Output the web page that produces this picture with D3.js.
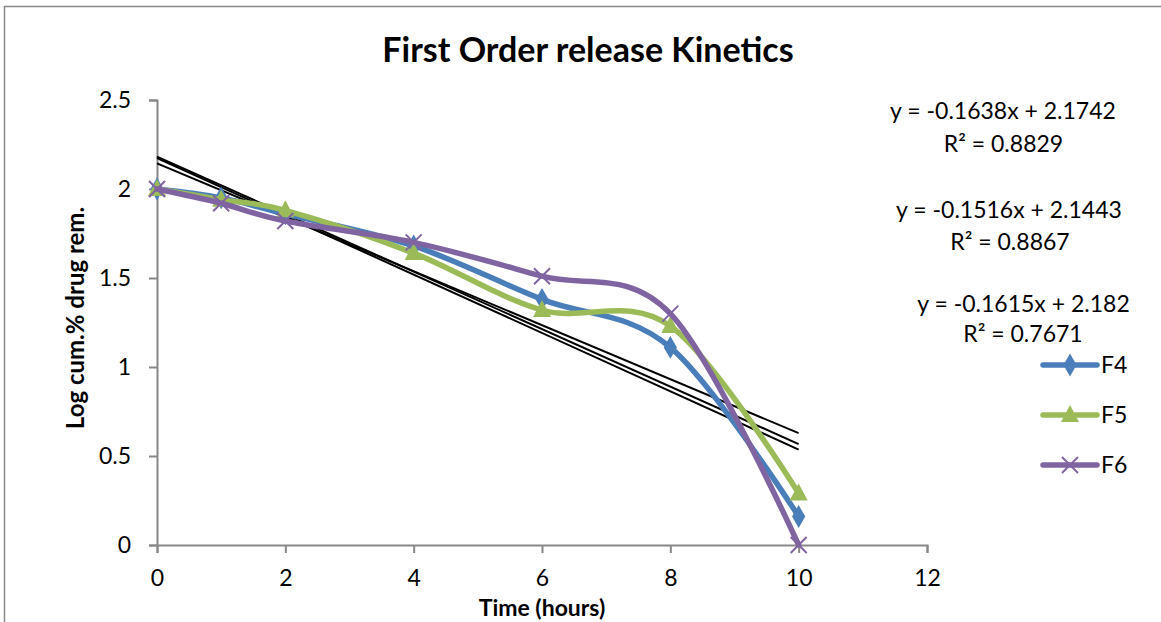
<!DOCTYPE html>
<html><head><meta charset="utf-8">
<script src="https://cdn.jsdelivr.net/npm/d3@7"></script>
<style>body{margin:0;background:#fff}svg{display:block}text{font-family:Lato,"Open Sans",sans-serif}</style>
</head><body>
<svg id="c" width="1161" height="622"></svg>
<script>
const times = [0, 1, 2, 4, 6, 8, 10];
const seriesNames = ["F4", "F5", "F6"];
const f4 = [2.0, 1.95, 1.86, 1.68, 1.38, 1.11, 0.16];
const f5 = [2.0, 1.94, 1.88, 1.64, 1.32, 1.23, 0.29];
const f6 = [2.0, 1.92, 1.82, 1.70, 1.51, 1.30, 0.0];
const slopes = [-0.1638, -0.1516, -0.1615];
const intercepts = [2.1742, 2.1443, 2.182];
const eqLabels = ["y = -0.1638x + 2.1742", "y = -0.1516x + 2.1443", "y = -0.1615x + 2.182"];
const r2Labels = ["R² = 0.8829", "R² = 0.8867", "R² = 0.7671"];
const xTicks = [0, 2, 4, 6, 8, 10, 12];
const yTicks = [0, 0.5, 1, 1.5, 2, 2.5];
const colors = ["#4A7EBB", "#9BBB59", "#8064A2"];

const svg = d3.select("#c");
svg.append("rect").attr("x",4.5).attr("y",6.5).attr("width",1200).attr("height",700)
  .attr("fill","none").attr("stroke","#888").attr("stroke-width",1.5);

const x = d3.scaleLinear().domain([0,12]).range([157,927]);
const y = d3.scaleLinear().domain([0,2.5]).range([545,100]);

const axisColor = "#888";
const gx = svg.append("g").attr("transform","translate(0,545)")
  .call(d3.axisBottom(x).tickValues(xTicks).tickSize(8).tickPadding(17).tickFormat(d3.format("d")));
const gy = svg.append("g").attr("transform","translate(157,0)")
  .call(d3.axisLeft(y).tickValues(yTicks).tickSize(8).tickPadding(18).tickFormat(d=>String(d)));
[gx,gy].forEach(g=>{
  g.select(".domain").attr("stroke",axisColor).attr("stroke-width",2);
  g.selectAll(".tick line").attr("stroke",axisColor).attr("stroke-width",2);
  g.selectAll(".tick text").attr("fill","#000").style("font-size","23px").style("font-family","Lato,sans-serif");
});

// trendlines
slopes.forEach((m,i)=>{
  svg.append("line").attr("x1",x(0)).attr("y1",y(intercepts[i]))
    .attr("x2",x(10)).attr("y2",y(intercepts[i]+m*10))
    .attr("stroke","#000").attr("stroke-width",2);
});

const data = [f4,f5,f6];
const line = d3.line().x(d=>x(d[0])).y(d=>y(d[1])).curve(d3.curveCardinal.tension(0));
function marker(g, i, cx, cy){
  if(i===0){
    g.append("path").attr("d",d3.symbol(d3.symbolDiamond,150)()).attr("transform",`translate(${cx},${cy})`).attr("fill",colors[0]);
  } else if(i===1){
    g.append("path").attr("d",`M${cx},${cy-10}L${cx+9},${cy+7}L${cx-9},${cy+7}Z`).attr("fill",colors[1]);
  } else {
    g.append("path").attr("d",`M${cx-8},${cy-8}L${cx+8},${cy+8}M${cx-8},${cy+8}L${cx+8},${cy-8}`).attr("stroke",colors[2]).attr("stroke-width",2);
  }
}
data.forEach((vals,i)=>{
  const pts = times.map((t,j)=>[t,vals[j]]);
  svg.append("path").attr("d",line(pts)).attr("fill","none").attr("stroke",colors[i]).attr("stroke-width",5.5).attr("stroke-linecap","round");
  const g = svg.append("g");
  pts.forEach(p=>marker(g,i,x(p[0]),y(p[1])));
});

// title
svg.append("text").attr("x",588).attr("y",62).attr("text-anchor","middle").style("font-size","34px").style("font-weight","bold").text("First Order release Kinetics");
svg.append("text").attr("x",542).attr("y",616).attr("text-anchor","middle").style("font-size","23px").style("font-weight","bold").text("Time (hours)");
svg.append("text").attr("transform","translate(84,318) rotate(-90)").attr("text-anchor","middle").style("font-size","24px").style("font-weight","bold").text("Log cum.% drug rem.");

// equations
const eqPos = [[1003,119,1003.5,152],[1009,218,1010,250],[1023.5,312,1023,342]];
eqLabels.forEach((t,i)=>{
  svg.append("text").attr("x",eqPos[i][0]).attr("y",eqPos[i][1]).attr("text-anchor","middle").style("font-size","23px").text(t);
  svg.append("text").attr("x",eqPos[i][2]).attr("y",eqPos[i][3]).attr("text-anchor","middle").style("font-size","23px").text(r2Labels[i]);
});

// legend
seriesNames.forEach((n,i)=>{
  const ly = 365 + i*50;
  svg.append("line").attr("x1",1043).attr("x2",1097).attr("y1",ly).attr("y2",ly).attr("stroke",colors[i]).attr("stroke-width",5.5).attr("stroke-linecap","round");
  marker(svg,i,1070,ly);
  svg.append("text").attr("x",1101).attr("y",ly+8).style("font-size","23px").text(n);
});
</script>
</body></html>
